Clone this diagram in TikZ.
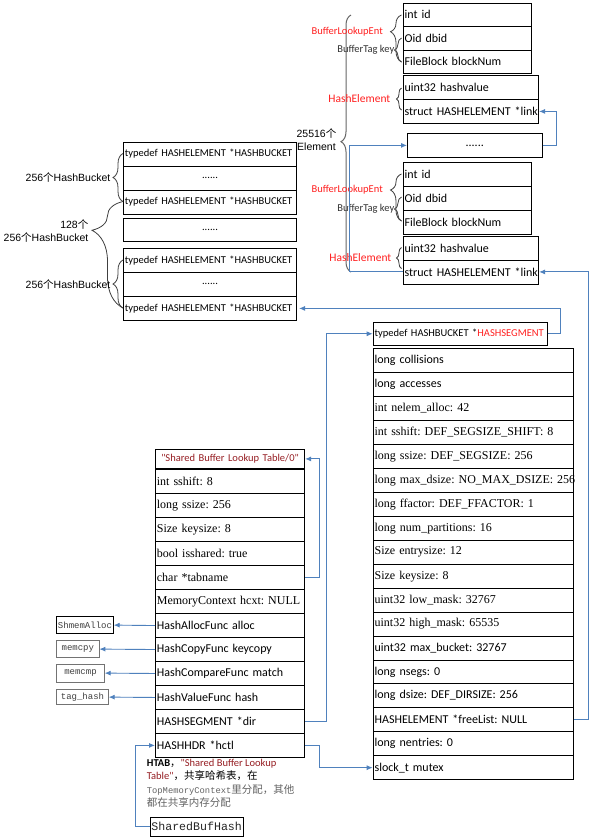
\documentclass[tikz,border=0pt]{standalone}
\usepackage{fontspec}
\setmainfont{Carlito}
\newfontfamily\fcal{Carlito}
\newfontfamily\fari{Liberation Sans}
\newfontfamily\ftnr{Liberation Serif}
\newfontfamily\fmono{Liberation Mono}
\newfontfamily\fcjk{Noto Sans CJK SC}
\usetikzlibrary{arrows.meta,decorations.pathreplacing}
\frenchspacing
\newcommand\szA{\fontsize{12}{14}\selectfont}
\newcommand\szB{\fontsize{10.5}{12.5}\selectfont}
\newcommand\fntS{\fcal\szA}
\newcommand\fntR{\ftnr\szA}
\newcommand\fntB{\fcal\szB}
\definecolor{linkblue}{RGB}{79,129,189}
\definecolor{lred}{RGB}{255,32,32}
\definecolor{dred}{RGB}{150,30,35}
\definecolor{tgray}{RGB}{100,100,100}
\begin{document}
\begin{tikzpicture}[x=1pt,y=-1pt,
  cellbase/.style={draw=black, line width=0.8pt, anchor=north west, inner xsep=1.5pt, inner ysep=0pt},
  cell/.style={cellbase, execute at begin node={\frenchspacing\hbox to\hsize\bgroup}, execute at end node={\hfil\egroup}},
  ccell/.style={cellbase, execute at begin node={\hbox to\hsize\bgroup\hfil}, execute at end node={\hfil\egroup}},
  ecell/.style={cell, font=\fntS, text width=125pt, minimum height=24pt},
  hcell/.style={cell, font=\fntS, text width=132.6pt, minimum height=24pt},
  bcell/.style={cell, font=\fntB, text width=170.3pt, minimum height=24pt},
  bdots/.style={ccell, font=\fntB, text width=170.3pt, minimum height=24pt},
  link/.style={draw=linkblue, line width=0.9pt, -{Latex[length=6pt,width=5pt]}},
  brc/.style={draw=black!75, line width=0.8pt, decorate},
  lab/.style={inner sep=0pt, anchor=east},
  fbox/.style={draw, line width=0.8pt, inner sep=0pt, font=\fmono\fontsize{9}{10}\selectfont, text=black!75},
]
\fill[white] (0,0) rectangle (594,839);
\useasboundingbox (0,0) rectangle (594,839);

% ---- element 1
\node[ecell, minimum height=23.5pt] (e1id) at (402.7,2.5) {int id};
\node[ecell, minimum height=23.5pt] (e1db) at (402.7,26) {Oid dbid};
\node[ecell, minimum height=23.5pt] (e1bn) at (402.7,49.5) {FileBlock blockNum};
\node[hcell] (e1hv) at (402.7,75) {uint32 hashvalue};
\node[hcell] (e1lk) at (402.7,99) {struct HASHELEMENT *link};
\node[ccell, font=\fntS, text width=131.7pt, minimum height=24pt] (edots) at (407,133) {......};
% ---- element 2
\node[ecell] (e2id) at (402.7,161.5) {int id};
\node[ecell] (e2db) at (402.7,185.5) {Oid dbid};
\node[ecell] (e2bn) at (402.7,209.5) {FileBlock blockNum};
\node[hcell] (e2hv) at (402.7,235.5) {uint32 hashvalue};
\node[hcell] (e2lk) at (402.7,259.5) {struct HASHELEMENT *link};

% ---- buckets
\node[bcell] (b1) at (123,141.5) {typedef HASHELEMENT *HASHBUCKET};
\node[bdots] (b2) at (123,165.5) {......};
\node[bcell] (b3) at (123,189.5) {typedef HASHELEMENT *HASHBUCKET};
\node[bdots, minimum height=23.5pt] (bm) at (123,217.5) {......};
\node[bcell] (b4) at (123,248) {typedef HASHELEMENT *HASHBUCKET};
\node[bdots] (b5) at (123,272) {......};
\node[bcell] (b6) at (123,296) {typedef HASHELEMENT *HASHBUCKET};

% ---- HASHHDR
\node[cell, font=\fntB, text width=171pt, minimum height=23.3pt] (hs) at (372.7,321.7) {typedef HASHBUCKET *\textcolor{lred}{HASHSEGMENT}};
\foreach \i/\ff/\txt in {
 1/S/long collisions,
 2/S/long accesses,
 3/R/int nelem\_alloc: 42,
 4/R/int sshift: DEF\_SEGSIZE\_SHIFT: 8,
 5/R/long ssize: DEF\_SEGSIZE: 256,
 6/R/long max\_dsize: NO\_MAX\_DSIZE: 256,
 7/R/long ffactor: DEF\_FFACTOR: 1,
 8/R/long num\_partitions: 16,
 9/R/Size entrysize: 12,
 10/R/Size keysize: 8,
 11/R/uint32 low\_mask: 32767,
 12/R/uint32 high\_mask: 65535,
 13/S/uint32 max\_bucket: 32767,
 14/S/long nsegs: 0,
 15/S/long dsize: DEF\_DIRSIZE: 256,
 16/S/HASHELEMENT *freeList: NULL,
 17/S/long nentries: 0,
 18/S/slock\_t mutex}
 {\node[cell, font=\csname fnt\ff\endcsname, text width=197pt, minimum height=23.94pt] (r\i) at (372.7,{348.3+(\i-1)*23.94}) {\txt};}

% ---- HTAB
\node[ccell, font=\fntB, text=dred, text width=146.3pt, minimum height=18.4pt] (lh) at (155,449.3) {\textquotedbl Shared Buffer Lookup Table/0\textquotedbl};
\foreach \i/\ff/\txt in {
 1/R/int sshift: 8,
 2/R/long ssize: 256,
 3/R/Size keysize: 8,
 4/R/bool isshared: true,
 5/R/char *tabname,
 6/R/MemoryContext hcxt: NULL,
 7/S/HashAllocFunc alloc,
 8/S/HashCopyFunc keycopy,
 9/S/HashCompareFunc match,
 10/S/HashValueFunc hash,
 11/S/HASHSEGMENT *dir,
 12/S/HASHHDR *hctl}
 {\node[cell, font=\csname fnt\ff\endcsname, text width=146.3pt, minimum height=23.975pt] (l\i) at (155,{469.3+(\i-1)*23.975}) {\txt};}

% ---- function boxes
\node[fbox, draw=black, minimum width=56.6pt, minimum height=16.6pt] (fshm) at (85,625.1) {ShmemAlloc};
\node[fbox, draw=black!55, minimum width=42.3pt, minimum height=16.6pt] (fcpy) at (77.85,649.1) {memcpy};
\node[fbox, draw=black!55, minimum width=47.6pt, minimum height=17.7pt] (fcmp) at (80.5,673.1) {memcmp};
\node[fbox, draw=black!55, minimum width=51.6pt, minimum height=15.3pt] (fth) at (82.5,697.1) {tag\_hash};

\node[draw=black, line width=0.8pt, inner sep=0pt, minimum width=93.3pt, minimum height=18.7pt, font=\fmono\fontsize{11.6}{13}\selectfont, text=black!85] (sbh) at (196.65,826.65) {SharedBufHash};

\node[anchor=north west, inner sep=0pt, align=left, font=\fcal\fontsize{10.5}{13.5}\selectfont] (note) at (146.7,758.8) {%
{\bfseries HTAB}{\fcjk ，}{\color{dred}\textquotedbl Shared Buffer Lookup}\\
{\color{dred}Table\textquotedbl}{\fcjk ，共享哈希表，在}\\
{\color{tgray}\fmono\fontsize{8.8}{13.5}\selectfont TopMemoryContext}{\color{tgray}\fcjk 里分配，其他}\\
{\color{tgray}\fcjk 都在共享内存分配}};

% ---- braces
\draw[brc, decoration={brace, amplitude=10pt, aspect=0.5}] (123,201.5) -- (123,153.5);
\draw[brc, decoration={brace, amplitude=31pt, aspect=0.73}] (123,308) -- (123,201.5);
\draw[brc, decoration={brace, amplitude=10pt, aspect=0.5}] (123,308) -- (123,260);
\draw[brc, decoration={brace, amplitude=11pt, aspect=0.645}] (401.5,62) -- (401.5,15);
\draw[brc, decoration={brace, amplitude=7pt, aspect=0.5}] (401.5,62) -- (401.5,38);
\draw[brc, decoration={brace, amplitude=5pt, aspect=0.5}] (401.5,110) -- (401.5,88);
\draw[brc, decoration={brace, amplitude=11pt, aspect=0.66}] (401.5,221) -- (401.5,174);
\draw[brc, decoration={brace, amplitude=7pt, aspect=0.5}] (401.5,221) -- (401.5,197);
\draw[brc, decoration={brace, amplitude=5pt, aspect=0.5}] (401.5,268.5) -- (401.5,247.5);
\draw[brc, draw=black!60, line width=1pt, decoration={brace, amplitude=10pt, aspect=0.507}] (351,272) -- (351,15);

% ---- brace labels
\node[lab, font=\fntB, text=lred] (tble1) at (383,31.7) {BufferLookupEnt};
\node[lab, font=\fntB, text=black!80] (tbtk1) at (394.5,50) {BufferTag key};
\node[lab, font=\fcal\fontsize{11.5}{13}\selectfont, text=lred] (the1) at (390.5,98.5) {HashElement};
\node[lab, font=\fntB, text=lred] (tble2) at (383,190) {BufferLookupEnt};
\node[lab, font=\fntB, text=black!80] (tbtk2) at (394.5,209) {BufferTag key};
\node[lab, font=\fcal\fontsize{11.5}{13}\selectfont, text=lred] (the2) at (391.5,257.5) {HashElement};
\node[lab, font=\fari\fontsize{10.5}{13}\selectfont, align=center] (tcnt) at (336.5,140) {25516{\fcjk 个}\\Element};
\node[lab, font=\fari\szB] (thb1) at (110.5,177) {256{\fcjk 个}HashBucket};
\node[lab, font=\fari\fontsize{10.5}{13}\selectfont, align=right] (thb128) at (88.5,230.5) {128{\fcjk 个}\\256{\fcjk 个}HashBucket};
\node[lab, font=\fari\szB] (thb2) at (110.5,284) {256{\fcjk 个}HashBucket};

% ---- connectors
\draw[link] (e2lk.west) -- ++(-53.7,0) |- (edots.west);
\draw[link] (edots.east) -- ++(14,0) |- (e1lk.east);
\draw[link] (r16.east) -- ++(15.3,0) |- (e2lk.east);
\draw[link, shorten >=2pt] (hs.east) -- ++(13.3,0) |- (b6.east);
\draw[link] (l11.east) -- ++(21.7,0) |- (hs.west);
\draw[link] (l12.east) -- ++(14,0) |- (r18.west);
\draw[link] (l5.east) -- ++(14,0) |- (lh.east);
\draw[link] (l7.west) -- (fshm.east);
\draw[link] (l8.west) -- (fcpy.east);
\draw[link] (l9.west) -- (fcmp.east);
\draw[link] (l10.west) -- (fth.east);
\draw[link] (sbh.west) -- ++(-14,0) |- (l12.west);
\end{tikzpicture}
\end{document}
